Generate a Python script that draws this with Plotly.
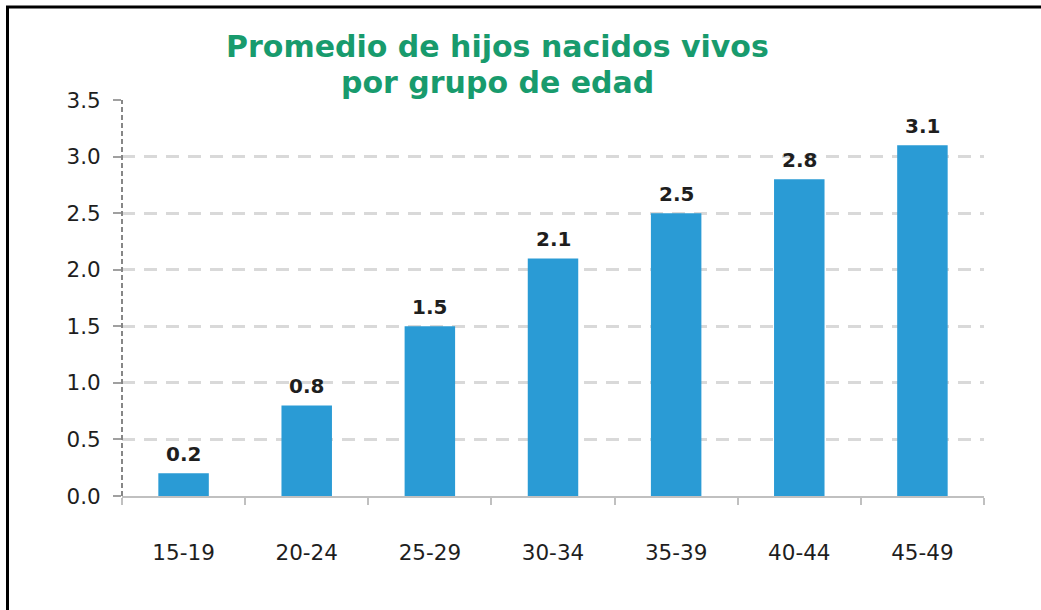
import plotly.graph_objects as go

categories = ["15-19", "20-24", "25-29", "30-34", "35-39", "40-44", "45-49"]
values = [0.2, 0.8, 1.5, 2.1, 2.5, 2.8, 3.1]
value_labels = ["0.2", "0.8", "1.5", "2.1", "2.5", "2.8", "3.1"]
y_ticks = [0.0, 0.5, 1.0, 1.5, 2.0, 2.5, 3.0, 3.5]
y_tick_labels = ["0.0", "0.5", "1.0", "1.5", "2.0", "2.5", "3.0", "3.5"]
title_lines = ["Promedio de hijos nacidos vivos", "por grupo de edad"]

W, H = 1041, 610
ML, MR, MT, MB = 122, 57, 100, 114
FONT = "DejaVu Sans, Arial, sans-serif"
TXT = "#1e1e1e"


def px_x(p):
    return (p - ML) / (W - ML - MR)


def px_y(p):
    return (H - MB - p) / (H - MT - MB)


fig = go.Figure()
fig.add_trace(go.Bar(
    x=categories, y=values,
    marker=dict(color="#2a9bd5", line=dict(width=0)),
    width=0.41,
    hoverinfo="skip",
))

for c, v, t in zip(categories, values, value_labels):
    fig.add_annotation(
        x=c, y=v, text="<b>%s</b>" % t, showarrow=False,
        yanchor="bottom", yshift=5,
        font=dict(family=FONT, size=20, color=TXT),
    )

# Title as two lines
for line, ypx in zip(title_lines, [47, 82]):
    fig.add_annotation(
        x=px_x(497.5), y=px_y(ypx), xref="paper", yref="paper",
        xanchor="center", yanchor="middle", showarrow=False,
        text="<b>%s</b>" % line,
        font=dict(family=FONT, size=30, color="#189b6d"),
    )

# Border frame
fig.add_shape(type="line", xref="paper", yref="paper",
              x0=px_x(6), x1=px_x(W + 5), y0=px_y(7), y1=px_y(7),
              line=dict(color="black", width=3))
fig.add_shape(type="line", xref="paper", yref="paper",
              x0=px_x(7.5), x1=px_x(7.5), y0=px_y(6), y1=px_y(H + 5),
              line=dict(color="black", width=3))

fig.update_layout(
    width=W, height=H,
    margin=dict(l=ML, r=MR, t=MT, b=MB),
    paper_bgcolor="white", plot_bgcolor="white",
    showlegend=False,
    xaxis=dict(
        type="category",
        showline=True, linecolor="#c0c0c0", linewidth=2,
        ticks="outside", tickson="boundaries", ticklen=7, tickcolor="#c0c0c0", tickwidth=2,
        showgrid=False,
        tickfont=dict(family=FONT, size=21.5, color=TXT),
        ticklabelstandoff=36,
    ),
    yaxis=dict(
        range=[0, 3.5],
        tickvals=y_ticks, ticktext=y_tick_labels,
        showline=False,
        ticks="outside", ticklen=8, tickcolor="#a0a0a0", tickwidth=1.5,
        showgrid=True, gridcolor="#d9d9d9", gridwidth=2.5, griddash="13px,9px",
        zeroline=False,
        tickfont=dict(family=FONT, size=21.5, color=TXT),
        ticklabelstandoff=8,
    ),
)

# dashed vertical y-axis line
fig.add_shape(type="line", xref="paper", yref="paper",
              x0=0, x1=0, y0=0, y1=1,
              line=dict(color="#7a7a7a", width=1.8, dash="5px,3px"), layer="above")

fig.write_html("out.html", config={"displayModeBar": False},
               post_script="document.body.style.margin='0';")
